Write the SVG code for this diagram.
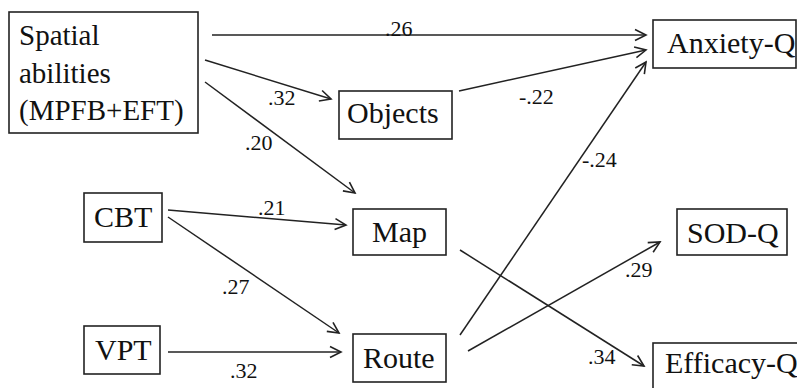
<svg xmlns="http://www.w3.org/2000/svg" width="797" height="388" viewBox="0 0 797 388" font-family="Liberation Serif, serif">
<style>
.box{fill:#fff;stroke:#222;stroke-width:1.6}
.t{font-family:'Liberation Serif','Times New Roman',serif;font-size:30px;fill:#111}
.lbl{font-family:'Liberation Serif','Times New Roman',serif;font-size:22px;fill:#111}
.c{stroke:#222;stroke-width:1.5;fill:none;marker-end:url(#ah)}
</style>
<defs>
<marker id="ah" markerUnits="userSpaceOnUse" markerWidth="14" markerHeight="14" refX="12" refY="7" orient="auto" viewBox="0 0 14 14">
<path d="M1,1.5 L12,7 L1,12.5" fill="none" stroke="#222" stroke-width="1.6"/>
</marker>
</defs>
<rect width="797" height="388" fill="#fff"/>
<g id="connectors">
<line class="c" x1="212" y1="35" x2="646" y2="35"/>
<line class="c" x1="205" y1="60" x2="331" y2="99"/>
<line class="c" x1="205" y1="82" x2="355" y2="193"/>
<line class="c" x1="459" y1="91" x2="646" y2="50"/>
<line class="c" x1="460" y1="335" x2="646" y2="62"/>
<line class="c" x1="168" y1="210" x2="346" y2="225"/>
<line class="c" x1="168" y1="217" x2="339" y2="333"/>
<line class="c" x1="168" y1="352" x2="341" y2="352"/>
<line class="c" x1="460" y1="250" x2="644" y2="366"/>
<line class="c" x1="468" y1="351" x2="660" y2="242"/>
<text class="lbl" x="385" y="36">.26</text>
<text class="lbl" x="268" y="105">.32</text>
<text class="lbl" x="245" y="150">.20</text>
<text class="lbl" x="519" y="104">-.22</text>
<text class="lbl" x="582" y="167">-.24</text>
<text class="lbl" x="258" y="215">.21</text>
<text class="lbl" x="222" y="294">.27</text>
<text class="lbl" x="230" y="378">.32</text>
<text class="lbl" x="625" y="277">.29</text>
<text class="lbl" x="588" y="364">.34</text>
</g>
<g id="spatial">
<rect class="box" x="9" y="12" width="189" height="121"/>
<text class="t" x="19" y="45" style="font-size:29px">Spatial</text>
<text class="t" x="19" y="83" style="font-size:29px">abilities</text>
<text class="t" x="19" y="120" style="font-size:29px">(MPFB+EFT)</text>
</g>
<g id="objects">
<rect class="box" x="339" y="91" width="113" height="48"/>
<text class="t" x="347" y="123">Objects</text>
</g>
<g id="anxiety">
<rect class="box" x="653" y="20" width="143" height="48"/>
<text class="t" x="667" y="53">Anxiety-Q</text>
</g>
<g id="cbt">
<rect class="box" x="84" y="193" width="78" height="49"/>
<text class="t" x="94" y="227">CBT</text>
</g>
<g id="map">
<rect class="box" x="353" y="209" width="93" height="46"/>
<text class="t" x="372" y="242">Map</text>
</g>
<g id="sod">
<rect class="box" x="677" y="209" width="110" height="46"/>
<text class="t" x="687" y="243">SOD-Q</text>
</g>
<g id="vpt">
<rect class="box" x="84" y="326" width="76" height="48"/>
<text class="t" x="95" y="360">VPT</text>
</g>
<g id="route">
<rect class="box" x="353" y="334" width="93" height="48"/>
<text class="t" x="363" y="368">Route</text>
</g>
<g id="efficacy">
<rect class="box" x="653" y="343" width="150" height="60"/>
<text class="t" x="665" y="373">Efficacy-Q</text>
</g>
</svg>
